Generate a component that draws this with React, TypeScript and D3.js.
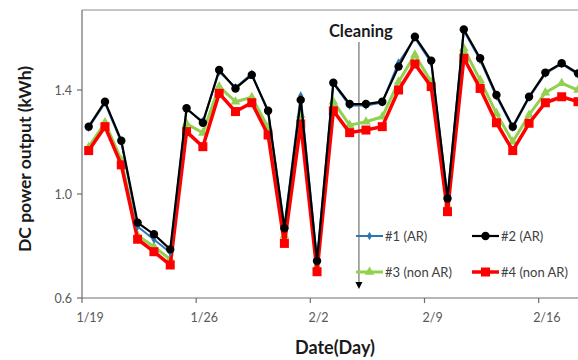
import React from "react";
import * as d3 from "d3";

const tickDays = [0, 7, 14, 21, 28];
const tickLabels = ["1/19", "1/26", "2/2", "2/9", "2/16"];
const yTicks = [0.6, 1.0, 1.4];

const s1AR = [1.255,1.35,1.2,0.875,0.825,0.775,1.325,1.28,1.47,1.41,1.462,1.315,0.875,1.378,0.745,1.425,1.34,1.34,1.352,1.505,1.6,1.505,0.99,1.628,1.515,1.375,1.255,1.37,1.463,1.5,1.46];
const s2AR = [1.259,1.355,1.205,0.89,0.845,0.787,1.33,1.274,1.477,1.406,1.458,1.32,0.868,1.362,0.742,1.428,1.346,1.346,1.355,1.49,1.605,1.513,0.983,1.633,1.522,1.381,1.259,1.374,1.467,1.503,1.464];
const s3nonAR = [1.18,1.275,1.13,0.84,0.797,0.749,1.27,1.235,1.413,1.355,1.372,1.256,0.84,1.304,0.72,1.355,1.265,1.278,1.297,1.432,1.535,1.432,0.955,1.56,1.438,1.31,1.201,1.304,1.39,1.426,1.4];
const s4nonAR = [1.167,1.259,1.112,0.826,0.778,0.727,1.24,1.182,1.387,1.317,1.351,1.227,0.81,1.269,0.701,1.32,1.236,1.246,1.259,1.4,1.5,1.413,0.932,1.522,1.406,1.274,1.167,1.272,1.351,1.374,1.355];
const cleaningDay = 16.98;

const FONT = "Lato, 'Open Sans', sans-serif";

export default function App() {
  const W = 578, H = 360;
  const left = 82, top = 10, bottom = 298;
  const x = d3.scaleLinear().domain([0, 7]).range([left, left + 7 * 16.31]);
  const y = d3.scaleLinear().domain([0.6, 1.4]).range([bottom, 90]);
  const off = 0.41;

  const line = d3.line<number>().x((_, i) => x(i + off)).y((v) => y(v));

  const series = [
    { name: "#3 (non AR)", data: s3nonAR, color: "#92D050", width: 3, marker: "tri" },
    { name: "#4 (non AR)", data: s4nonAR, color: "#FF0000", width: 3.5, marker: "sq" },
    { name: "#1 (AR)", data: s1AR, color: "#2E75B6", width: 2, marker: "dia" },
    { name: "#2 (AR)", data: s2AR, color: "#000000", width: 2.2, marker: "circ" },
  ];

  const marker = (type: string, cx: number, cy: number, color: string, key: any) => {
    if (type === "circ") return <circle key={key} cx={cx} cy={cy} r={4.2} fill={color} />;
    if (type === "sq") return <rect key={key} x={cx - 4.5} y={cy - 4.5} width={9} height={9} fill={color} />;
    if (type === "tri") return <path key={key} d={d3.symbol(d3.symbolTriangle, 40)() || ""} transform={`translate(${cx},${cy})`} fill={color} />;
    return <path key={key} d={d3.symbol(d3.symbolDiamond, 22)() || ""} transform={`translate(${cx},${cy})`} fill={color} />;
  };

  const legend = [
    { s: series[2], lx: 356, ly: 236 },
    { s: series[3], lx: 472, ly: 236 },
    { s: series[0], lx: 356, ly: 272 },
    { s: series[1], lx: 472, ly: 272 },
  ];

  const cx = x(cleaningDay);

  return (
    <svg width={W} height={H} style={{ position: "absolute", left: 0, top: 0, background: "#fff" }} fontFamily={FONT}>
      <rect x={0} y={0} width={W} height={H} fill="#fff" />
      <line x1={left} x2={W + 10} y1={top} y2={top} stroke="#8c8c8c" strokeWidth={1} />
      <line x1={left} x2={left} y1={top} y2={bottom} stroke="#6e6e6e" strokeWidth={1.2} />
      <line x1={left} x2={W + 10} y1={bottom} y2={bottom} stroke="#6e6e6e" strokeWidth={1.2} />
      {yTicks.map((t) => (
        <g key={t}>
          <line x1={left - 5} x2={left} y1={y(t)} y2={y(t)} stroke="#6e6e6e" strokeWidth={1.2} />
          <text x={left - 10} y={y(t) + 4.5} textAnchor="end" fontSize={12.5} fill="#595959">{t.toFixed(1)}</text>
        </g>
      ))}
      {tickDays.map((d, i) => (
        <g key={d}>
          <line x1={x(d)} x2={x(d)} y1={bottom} y2={bottom + 5} stroke="#6e6e6e" strokeWidth={1.2} />
          <text x={x(d + 0.5)} y={bottom + 24} textAnchor="middle" fontSize={12.5} fill="#595959">{tickLabels[i]}</text>
        </g>
      ))}
      <line x1={cx} x2={cx} y1={42} y2={284} stroke="#555" strokeWidth={1} />
      <path d={`M${cx - 3.5},${282} L${cx + 3.5},${282} L${cx},${289} Z`} fill="#000" />
      <text x={cx - 30} y={37} fontSize={16.5} fontWeight="bold" fill="#1a1a1a">Cleaning</text>
      {series.map((s) => (
        <g key={s.name}>
          <path d={line(s.data) || ""} fill="none" stroke={s.color} strokeWidth={s.width} strokeLinejoin="round" />
          {s.data.map((v, i) => marker(s.marker, x(i + off), y(v), s.color, i))}
        </g>
      ))}
      {legend.map(({ s, lx, ly }) => (
        <g key={s.name}>
          <line x1={lx} x2={lx + 27} y1={ly} y2={ly} stroke={s.color} strokeWidth={s.width} />
          {marker(s.marker, lx + 13.5, ly, s.color, "m")}
          <text x={lx + 29} y={ly + 4.5} fontSize={13} fill="#404040">{s.name}</text>
        </g>
      ))}
      <text transform={`translate(31,${159}) rotate(-90)`} textAnchor="middle" fontSize={17.5} fontWeight="bold" fill="#1a1a1a">DC power output (kWh)</text>
      <text x={335} y={354} textAnchor="middle" fontSize={18} fontWeight="bold" fill="#1a1a1a">Date(Day)</text>
    </svg>
  );
}
